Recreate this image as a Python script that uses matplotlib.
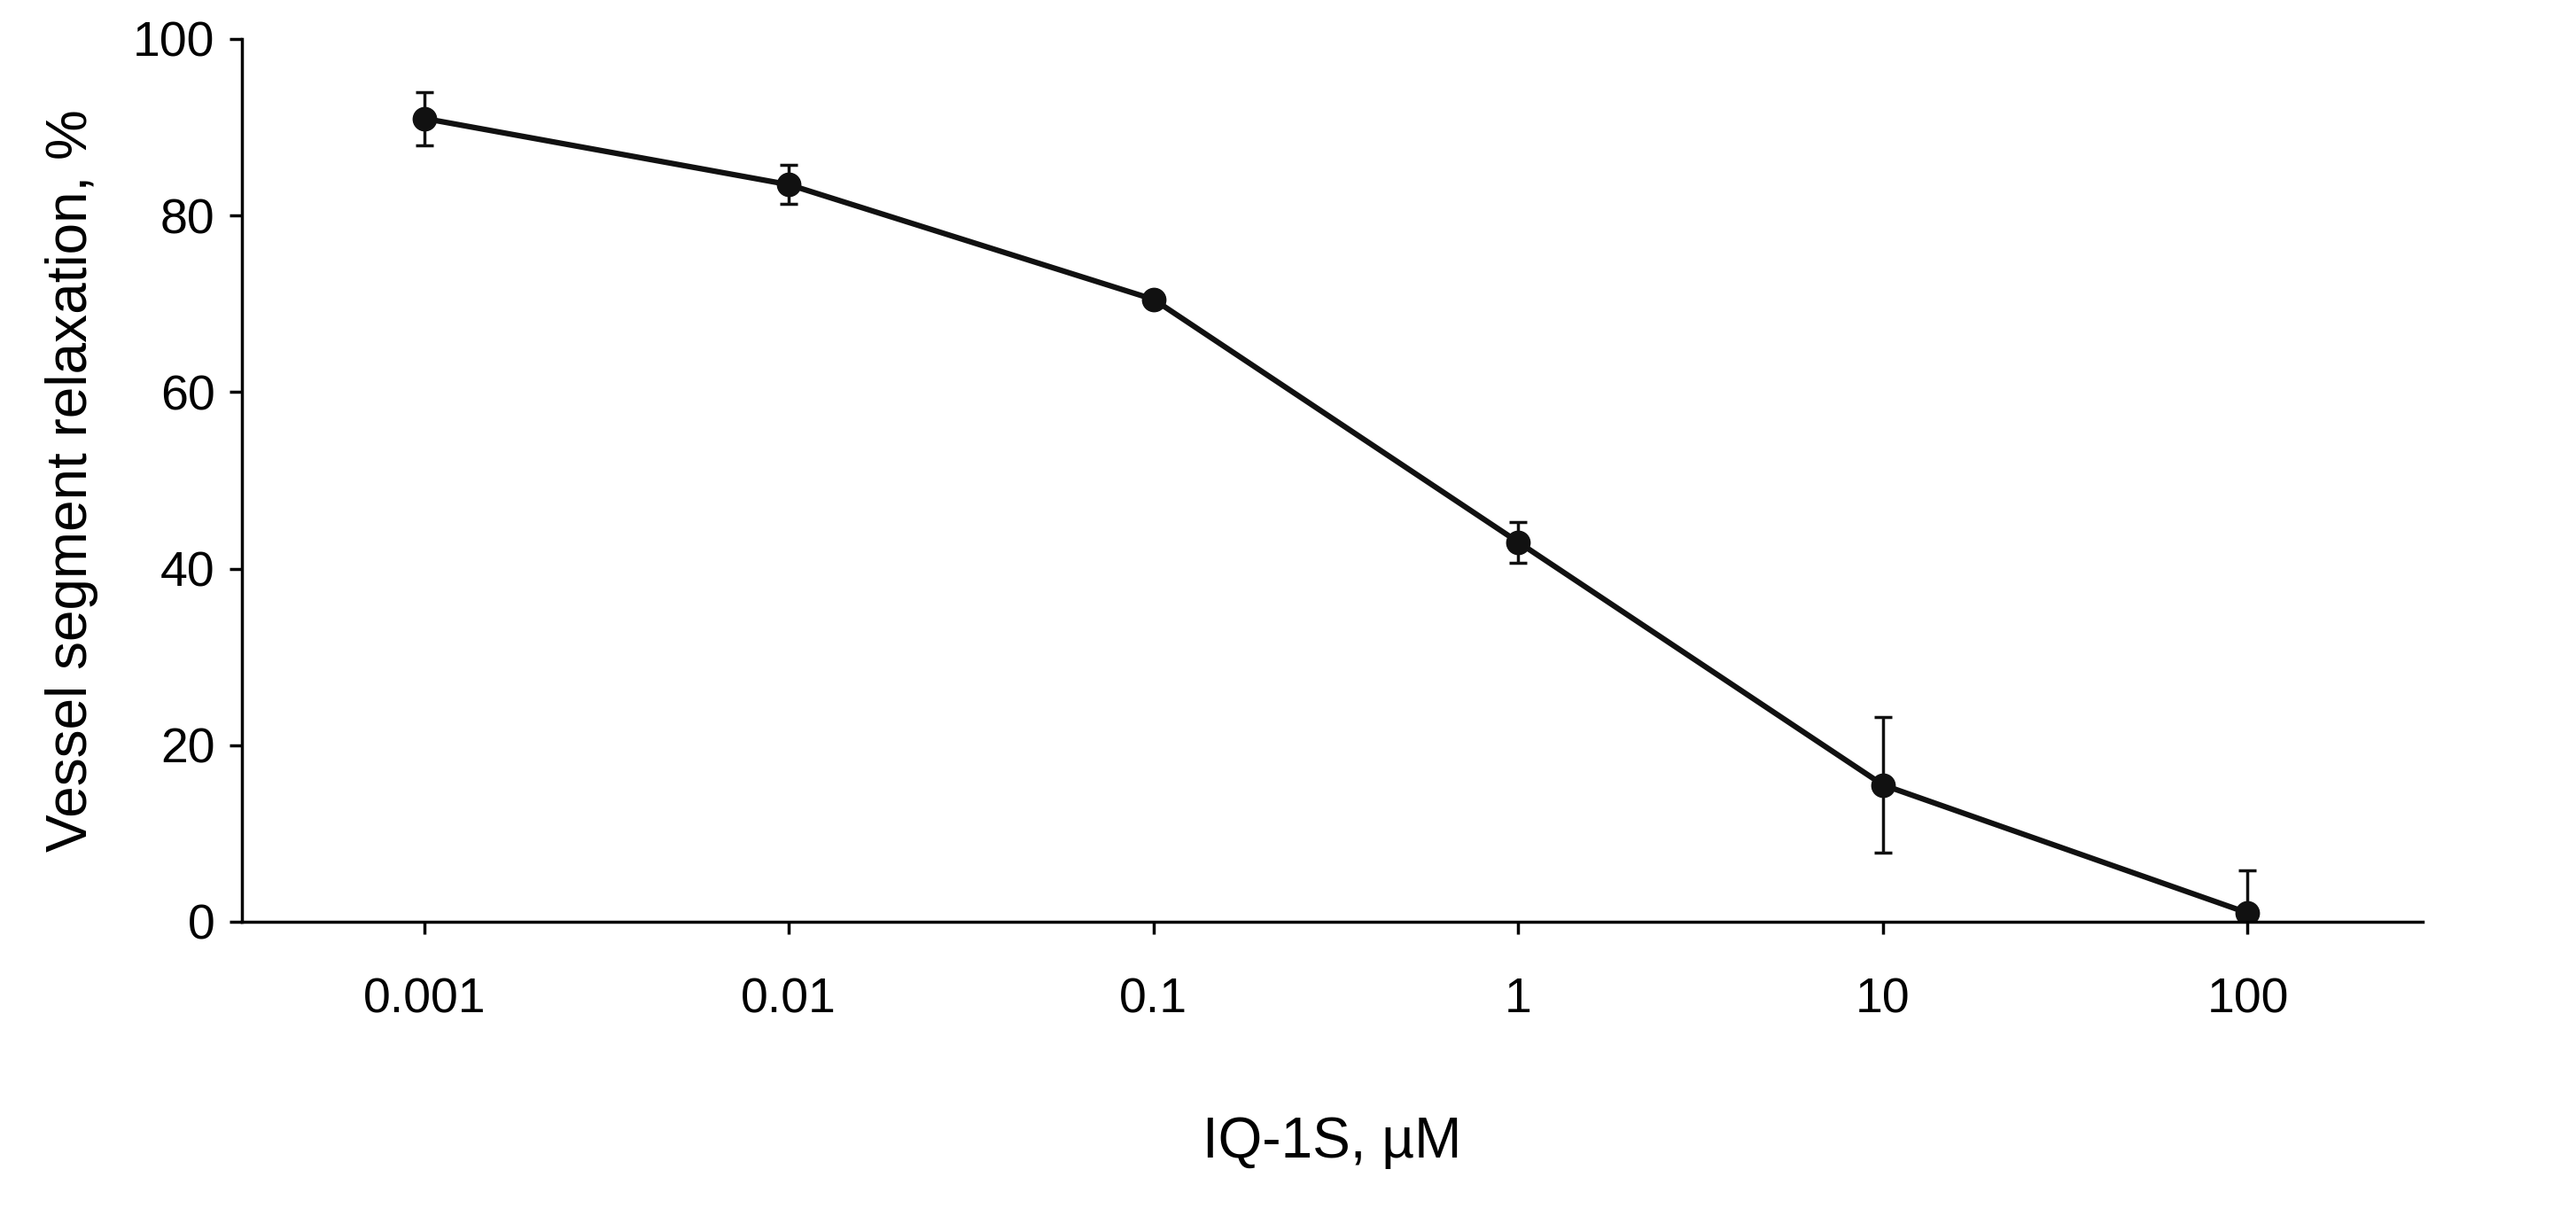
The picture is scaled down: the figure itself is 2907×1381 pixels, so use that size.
import matplotlib
matplotlib.use("Agg")
import matplotlib.pyplot as plt

conc = [0.001, 0.01, 0.1, 1, 10, 100]
relax = [91.0, 83.5, 70.5, 43.0, 15.5, 1.0]
err = [3.0, 2.2, 0.5, 2.3, 7.7, 4.8]
tick_labels = ["0.001", "0.01", "0.1", "1", "10", "100"]

plt.rcParams['font.family'] = ['Liberation Sans', 'DejaVu Sans']
fig = plt.figure(figsize=(29.07, 13.81), dpi=100)
ax = fig.add_axes([273/2907, 1-1040/1381, (2734-273)/2907, (1040-44)/1381])
ax.errorbar(conc, relax, yerr=err, color='#111111', lw=4.5, marker='o', ms=19,
            elinewidth=2.5, capsize=7, capthick=2.5)
ax.set_xscale('log')
ax.set_xlim(10**-3.5, 10**2.48)
ax.set_ylim(0, 100)
ax.set_xticks(conc)
ax.set_xticklabels(tick_labels)
ax.minorticks_off()
ax.set_yticks([0, 20, 40, 60, 80, 100])
for s in ['top', 'right']:
    ax.spines[s].set_visible(False)
for s in ['left', 'bottom']:
    ax.spines[s].set_linewidth(2.5)
ax.tick_params(axis='both', labelsize=40, width=2.5, length=10)
ax.tick_params(axis='x', pad=35)
ax.tick_params(axis='y', pad=12)
ax.set_xlabel("IQ-1S, µM", fontsize=46, labelpad=75)
ax.set_ylabel("Vessel segment relaxation, %", fontsize=46, labelpad=28)
fig.savefig("out.png", dpi=100)
